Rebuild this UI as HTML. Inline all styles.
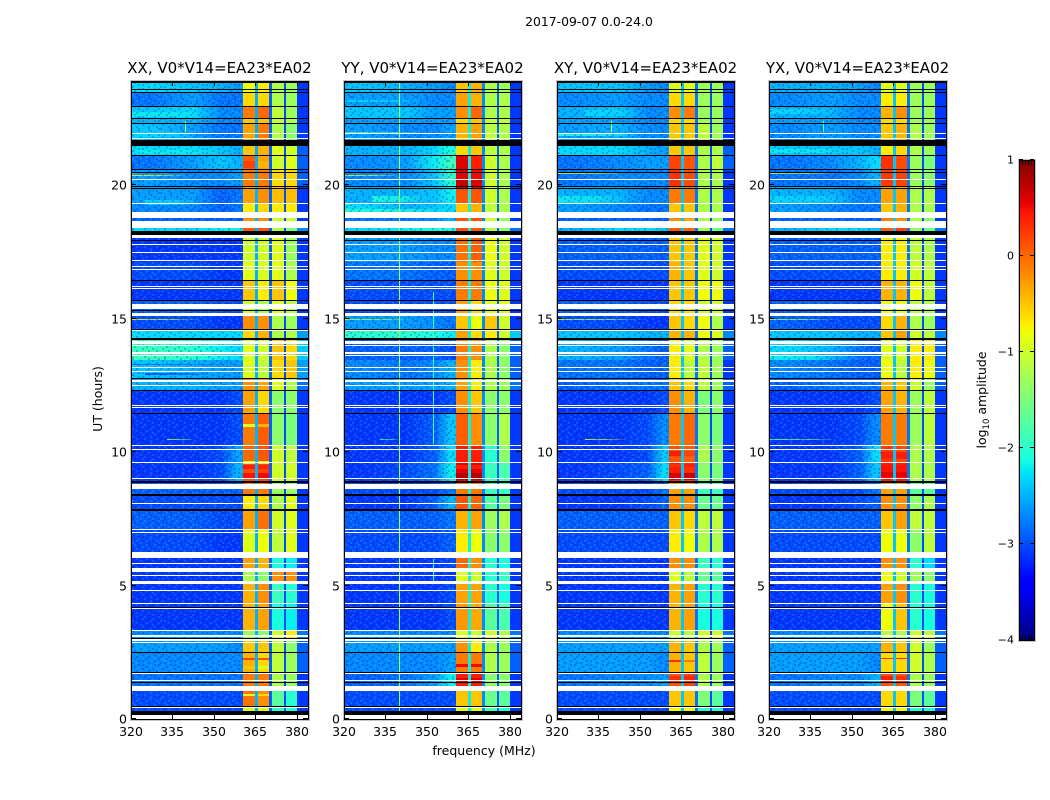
<!DOCTYPE html>
<html>
<head>
<meta charset="utf-8">
<title>2017-09-07 0.0-24.0</title>
<style>
html,body{margin:0;padding:0;background:#fff;width:1050px;height:800px;overflow:hidden}
svg{display:block;font-family:"DejaVu Sans","Liberation Sans",sans-serif;fill:#000}
</style>
</head>
<body>
<svg id="chart" xmlns="http://www.w3.org/2000/svg" width="1050" height="800" viewBox="0 0 1050 800">
  <defs id="defs">
    <pattern id="grain" width="32" height="32" patternUnits="userSpaceOnUse"></pattern>
  </defs>
  <text x="589" y="26" font-size="12.4" text-anchor="middle">2017-09-07 0.0-24.0</text>
  <text x="484" y="755" font-size="12.5" text-anchor="middle">frequency (MHz)</text>
  <text x="0" y="0" font-size="12.5" text-anchor="middle" transform="translate(102,399) rotate(-90)">UT (hours)</text>
  <text x="0" y="0" font-size="12.5" text-anchor="middle" transform="translate(986,400) rotate(-90)">log<tspan font-size="8.5" dy="3">10</tspan><tspan dy="-3"> amplitude</tspan></text>
  <g id="panels"></g>
  <g id="colorbar"></g>
  <text x="1017" y="647" font-size="4.5" fill="#999" letter-spacing="1.7">......</text>
</svg>
<script>
// ---- axis data ----
const panelTitles = ["XX, V0*V14=EA23*EA02", "YY, V0*V14=EA23*EA02", "XY, V0*V14=EA23*EA02", "YX, V0*V14=EA23*EA02"];
const freqTicks = [320, 335, 350, 365, 380];
const utTicks = [0, 5, 10, 15, 20];
const cbarTicks = [1, 0, -1, -2, -3, -4];
const cbarMinorFractions = [0.2, 0.4, 0.6, 0.8];
const freqEdges = [320, 335, 350, 356, 360.4, 365.4, 370.5, 375.6, 380, 384];
const utEdges = [23.90,23.48,22.96,22.51,22.28,21.46,21.12,20.56,19.93,19.33,18.76,18.39,18.01,17.12,16.40,15.69,15.09,14.57,14.19,13.45,12.77,12.32,11.46,10.26,9.63,8.88,8.35,7.83,7.08,6.03,5.51,5.06,4.31,3.33,2.96,2.51,1.72,1.24,0.49,0.15];
const gapBands = [[365.0,366.0],[370.0,371.0],[375.2,376.1]];

// ---- log10 amplitude per time row, columns per freqEdges ----
const xxValues = [
[-2.3,-2.4,-2.5,-2.6,-.8,-.7,-1.2,-1.3,-3.1],
[-2.8,-2.6,-2.8,-2.8,-.6,-.6,-1.2,-1.3,-3.1],
[-2.4,-2.3,-2.7,-2.7,-.1,0,-1.1,-1.3,-3.1],
[-2.5,-2.5,-2.7,-2.7,-.5,-.5,-1.1,-1.2,-3.1],
[-2.4,-2.6,-2.8,-2.8,-.3,-.1,-1.2,-1.4,-3.1],
[-2.3,-2.3,-2.4,-2.5,-.5,-.4,-.9,-1,-2.9],
[-2.8,-2.6,-2.4,-2.5,.05,-.3,-1,-.9,-2.9],
[-2.6,-2.7,-2.7,-2.6,-.1,-.1,-.6,-.6,-2.9],
[-2.6,-2.6,-2.9,-2.8,-.3,-.2,-.45,-.45,-3.1],
[-2.7,-2.7,-2.9,-2.8,-.7,-.6,-.7,-.7,-3.1],
[-2.9,-2.9,-2.9,-2.9,-.2,-.2,-1,-1,-3.1],
[-2.3,-2.3,-2.2,-2.2,.1,.1,-1.2,-1.5,-2.7],
[-3.1,-3.1,-3.1,-3.1,-1,-1,-.9,-1.3,-3.1],
[-3,-3,-3.1,-3.1,-.9,-.95,-.9,-1.2,-3.1],
[-3.1,-3.1,-3.1,-3.1,-.5,-.7,-.5,-.8,-3.1],
[-2.9,-2.9,-3,-3,-1,-1.2,-.9,-1.1,-3.1],
[-3,-3,-3.1,-3.1,-.2,-.2,-1.2,-1.3,-3.1],
[-2.3,-2.3,-2.3,-2.3,-.6,-.4,-1.2,-1.2,-2.6],
[-1.9,-2,-2.2,-2.3,-.9,-1,-.5,-.6,-2.4],
[-2.4,-2.5,-2.6,-2.6,-.9,-1.1,-.6,-.5,-2.6],
[-2.5,-2.5,-2.6,-2.6,-.2,-.3,-.9,-1.2,-2.8],
[-3.1,-3.1,-3.1,-3,-.3,-.6,-1.4,-1.4,-3.1],
[-3.1,-3.1,-3.1,-3,-.1,.05,-1.4,-1.5,-3.1],
[-3.1,-3.1,-3,-2.6,0,.1,-1,-1.1,-3.1],
[-3.1,-3.1,-3,-2.5,.15,.2,-1,-1,-3.1],
[-2.9,-2.9,-2.9,-2.9,-.1,-.1,-1.3,-1.3,-3.1],
[-3,-3,-3,-3,-.7,-.6,-1.2,-.9,-3.1],
[-2.9,-2.9,-3,-3,-.3,-.05,-1,-.9,-3.1],
[-3,-3,-3.1,-3.1,-.9,-.8,-1.1,-.9,-3.1],
[-3.1,-3.1,-3.1,-3.1,-.3,-.4,-2.1,-2.2,-3.1],
[-3.1,-3.1,-3.1,-3.1,-1.2,-1.4,-.2,-.2,-3.1],
[-3.1,-3.1,-3.1,-3.1,-.4,-.2,-1.9,-2,-3.1],
[-3.1,-3.1,-3.1,-3.1,-.4,-.3,-2.1,-2.2,-3.1],
[-2.7,-2.7,-2.7,-2.7,-1.3,-1.4,-1,-.7,-2.8],
[-2.6,-2.6,-2.6,-2.7,-.5,-.5,-1.1,-1.4,-2.9],
[-2.7,-2.7,-2.7,-2.7,-.4,-.6,-1.1,-1.3,-2.9],
[-2.8,-2.8,-2.8,-2.8,-.1,-.1,-1.2,-1.3,-3.1],
[-3,-3,-3,-3,-.05,-.2,-1.7,-2,-3.1],
[-3,-3,-3,-3,-.9,-.9,-2,-2,-3.1]];
const yyValues = [
[-2.4,-2.5,-2.6,-2.7,-.5,-.4,-1.2,-1.3,-3.1],
[-2.6,-2.6,-2.7,-2.7,-.3,-.4,-1.2,-1.2,-3.1],
[-2.4,-2.4,-2.6,-2.6,-.2,0,-1.2,-1.2,-3.1],
[-2.6,-2.6,-2.6,-2.6,-.6,-.5,-1.1,-1.1,-3.1],
[-2.6,-2.7,-2.7,-2.6,-.4,-.3,-1.1,-1.2,-3.1],
[-2.5,-2.5,-2.3,-2.1,-.6,-.5,-1.1,-1.2,-3.1],
[-2.7,-2.6,-2.2,-1.9,.6,.4,-1,-1.2,-3.1],
[-2.7,-2.7,-2.4,-2,.55,.5,-1,-1.2,-3.1],
[-2.5,-2.5,-2.4,-2.2,.1,.1,-1,-1.2,-3.1],
[-2.3,-2.5,-2.4,-2.3,-.5,-.4,-1.1,-1.2,-3.1],
[-2.8,-2.8,-2.7,-2.5,.1,.1,-1,-1.3,-3.1],
[-2.3,-2.2,-2.1,-2.1,.15,.1,-1.2,-1.4,-2.8],
[-2.6,-2.6,-2.7,-2.7,-.05,.05,-.8,-1,-3.1],
[-2.8,-2.8,-2.9,-2.9,-.2,-.2,-.9,-1,-3.1],
[-3,-3,-3,-3,-.1,-.1,-.8,-.9,-3.1],
[-3,-3,-3,-3,-.3,-.6,-.9,-.9,-3.1],
[-2.6,-2.6,-2.7,-2.8,-.5,-.8,-.5,-1,-3.1],
[-2,-2,-2.1,-2.2,-.3,-.6,-.7,-1,-2.4],
[-2.9,-2.9,-2.9,-3,-.1,-.2,-1.2,-1.4,-2.9],
[-2.7,-2.8,-2.7,-2.5,-.2,-.7,-1.2,-1.4,-2.9],
[-2.6,-2.6,-2.6,-2.5,-.3,-.7,-1.2,-1.3,-2.8],
[-3.1,-3.1,-3.1,-3,-.2,-.5,-1.4,-1.4,-3.1],
[-3.1,-3.1,-2.9,-2.4,.05,-.2,-1.4,-1.2,-3.1],
[-3.1,-3.1,-2.9,-2.3,.4,.4,-2,-1.4,-3.1],
[-3.1,-3,-2.8,-2.2,.55,.55,-1.9,-1.8,-3.1],
[-3,-3,-3,-2.8,-.1,-.1,-1.9,-1.9,-3.1],
[-3.1,-3.1,-2.9,-2.5,.1,0,-1.7,-1.5,-3.1],
[-2.9,-2.9,-2.9,-2.8,-.4,-.3,-1.3,-1.2,-3.1],
[-3,-3,-3,-2.9,-.7,-.8,-1.4,-1.4,-3.1],
[-3.1,-3.1,-3.1,-3,0,-.2,-2,-2.1,-3.1],
[-3.1,-3.1,-3.1,-3.1,-.9,-1,-2,-1.9,-3.1],
[-3.1,-3.1,-3.1,-3,-.3,-.3,-2,-2.1,-3.1],
[-3.1,-3.1,-3.1,-3,-.25,-.35,-1.7,-1.8,-3.1],
[-2.7,-2.7,-2.7,-2.7,-.9,-1,-1,-1.2,-2.8],
[-2.6,-2.6,-2.6,-2.6,-.2,-.7,-1.2,-1.3,-2.9],
[-2.7,-2.7,-2.7,-2.6,-.1,-.1,-1.2,-1.3,-2.9],
[-2.9,-2.8,-2.6,-2.2,.4,.4,-1.4,-1.4,-3.1],
[-3,-3,-3,-3,-.5,-.5,-1.6,-1.7,-3.1],
[-3,-3,-3,-3,-.9,-.9,-1.8,-2,-3.1]];
const xyValues = [
[-2.4,-2.4,-2.6,-2.7,-.9,-.9,-1.3,-1.3,-3.1],
[-2.7,-2.6,-2.7,-2.7,-.6,-.6,-1.3,-1.3,-3.1],
[-2.5,-2.4,-2.7,-2.7,-.2,-.1,-1.3,-1.3,-3.1],
[-2.6,-2.6,-2.7,-2.7,-.6,-.6,-1.3,-1.3,-3.1],
[-2.6,-2.5,-2.7,-2.7,-.5,-.5,-1.1,-1.3,-3.1],
[-2.3,-2.3,-2.5,-2.6,-.5,-.5,-1.2,-1.2,-2.9],
[-2.8,-2.7,-2.6,-2.6,.2,.1,-1.2,-1.1,-2.9],
[-2.8,-2.7,-2.7,-2.7,.3,.15,-1.2,-1.2,-3.1],
[-2.5,-2.5,-2.7,-2.7,-.1,-.1,-1.2,-1.2,-3.1],
[-2.6,-2.7,-2.8,-2.8,-.5,-.5,-1.2,-1.2,-3.1],
[-2.9,-2.9,-2.9,-2.9,-.2,-.3,-1.2,-1.3,-3.1],
[-2.5,-2.3,-2.3,-2.4,.1,0,-1.3,-1.6,-2.8],
[-2.9,-2.9,-2.9,-2.9,-.5,-.5,-.9,-1,-3.1],
[-3,-3,-3,-3,-.4,-.5,-.9,-1,-3.1],
[-3.1,-3.1,-3.1,-3.1,-.5,-.5,-.8,-.8,-3.1],
[-2.9,-2.9,-3,-3,-.6,-.6,-1,-1,-3.1],
[-3,-3,-3.1,-3.1,-.5,-.6,-.8,-1.2,-3.1],
[-2.4,-2.4,-2.5,-2.5,-.4,-.4,-.8,-.9,-2.7],
[-2.5,-2.6,-2.8,-2.9,-.7,-.9,-1.2,-1.3,-2.9],
[-2.8,-2.8,-2.9,-2.9,-.7,-1.1,-1.1,-1.3,-3.1],
[-2.9,-2.8,-2.8,-2.8,-.5,-.6,-1.1,-1.3,-2.9],
[-3.1,-3.1,-3.1,-3,-.2,-.4,-1.5,-1.4,-3.1],
[-3.1,-3.1,-3,-2.7,-.1,0,-1.4,-1.5,-3.1],
[-3.1,-3.1,-3,-2.4,.1,.05,-1.2,-1.4,-3.1],
[-3.1,-3,-2.9,-2.3,.4,.3,-1.4,-1.5,-3.1],
[-3,-3,-3,-2.8,-.3,-.3,-1.9,-1.9,-3.1],
[-3.1,-3.1,-3,-2.9,-.2,-.2,-1.6,-1.6,-3.1],
[-2.9,-2.9,-2.9,-2.9,-.5,-.6,-1.1,-1.1,-3.1],
[-3,-3,-3,-3,-.7,-.8,-1.2,-1.2,-3.1],
[-3.1,-3.1,-3.1,-3.1,-.2,-.2,-1.9,-2,-3.1],
[-3.1,-3.1,-3.1,-3.1,-.9,-1.1,-1.6,-1.7,-3.1],
[-3.1,-3.1,-3.1,-3.1,-.4,-.3,-2,-2,-3.1],
[-3.1,-3.1,-3.1,-3.1,-.4,-.3,-2.1,-2.1,-3.1],
[-2.7,-2.7,-2.7,-2.7,-1,-1.1,-1,-1,-2.8],
[-2.6,-2.6,-2.6,-2.6,-.4,-.5,-1.2,-1.3,-2.9],
[-2.6,-2.6,-2.6,-2.7,-.4,-.5,-1.1,-1.3,-2.9],
[-2.8,-2.7,-2.7,-2.6,.1,.2,-1.2,-1.3,-3.1],
[-3,-3,-3,-3,-.5,-.5,-1.5,-1.7,-3.1],
[-3,-3,-3,-3,-.8,-.8,-2,-2,-3.1]];
const yxValues = [
[-2.5,-2.5,-2.6,-2.7,-.9,-.9,-1.3,-1.3,-3.1],
[-2.7,-2.6,-2.7,-2.7,-.7,-.7,-1.3,-1.3,-3.1],
[-2.5,-2.5,-2.7,-2.7,-.4,-.2,-1.3,-1.3,-3.1],
[-2.6,-2.6,-2.7,-2.7,-.6,-.6,-1.3,-1.3,-3.1],
[-2.7,-2.6,-2.7,-2.7,-.5,-.4,-1.2,-1.3,-3.1],
[-2.4,-2.4,-2.4,-2.5,-.7,-.6,-1.2,-1.3,-3.1],
[-2.8,-2.7,-2.5,-2.3,.3,.15,-1.3,-1.5,-3.1],
[-2.8,-2.8,-2.7,-2.5,.25,.2,-1.3,-1.4,-3.1],
[-2.5,-2.5,-2.7,-2.7,-.3,-.3,-1.2,-1.2,-3.1],
[-2.6,-2.7,-2.8,-2.8,-.5,-.4,-1.2,-1.2,-3.1],
[-2.9,-2.9,-2.9,-2.9,-.1,-.2,-1.2,-1.4,-3.1],
[-2.5,-2.3,-2.3,-2.4,.05,.2,-1.3,-1.6,-2.8],
[-2.9,-2.9,-2.9,-2.9,-.7,-.7,-1.1,-1.2,-3.1],
[-3,-3,-3,-3,-.7,-.7,-1,-1.1,-3.1],
[-3.1,-3.1,-3.1,-3.1,-.4,-.4,-.8,-1.1,-3.1],
[-2.9,-2.9,-3,-3,-.8,-.8,-1.1,-1.2,-3.1],
[-2.9,-3,-3,-3,-.6,-.4,-1.2,-1.3,-3.1],
[-2.4,-2.4,-2.5,-2.5,-.5,-.3,-1,-1.1,-2.7],
[-2.3,-2.5,-2.8,-2.9,-.9,-1,-.7,-.7,-2.9],
[-2.7,-2.8,-2.9,-2.9,-.8,-1.1,-.7,-.8,-2.9],
[-2.9,-2.8,-2.8,-2.8,-.4,-.5,-1,-1.3,-2.9],
[-3.1,-3.1,-3.1,-3,-.3,-.4,-1.3,-1.1,-3.1],
[-3.1,-3.1,-3,-2.7,-.1,-.1,-1.3,-1.1,-3.1],
[-3.1,-3.1,-2.9,-2.3,.25,.15,-1.2,-1.2,-3.1],
[-3.1,-3.1,-2.9,-2.4,.45,.45,-1.2,-1.2,-3.1],
[-3,-3,-3,-2.8,-.3,-.3,-1.7,-1.7,-3.1],
[-3.1,-3.1,-3,-2.9,-.2,-.2,-1.4,-1.2,-3.1],
[-2.9,-2.9,-2.9,-2.9,-.5,-.3,-1.1,-1.1,-3.1],
[-3,-3,-3,-3,-.8,-.8,-1.4,-1.1,-3.1],
[-3.1,-3.1,-3.1,-3.1,-.2,-.2,-2,-2.3,-3.1],
[-3.1,-3.1,-3.1,-3.1,-.8,-1,-1.3,-1.4,-3.1],
[-3.1,-3.1,-3.1,-3.1,-.3,-.2,-2,-2.1,-3.1],
[-3.1,-3.1,-3.1,-3.1,-.8,-.5,-2,-2.1,-3.1],
[-2.7,-2.7,-2.7,-2.7,-1.1,-1.2,-1,-1.1,-2.8],
[-2.6,-2.6,-2.6,-2.6,-.4,-.5,-1,-1.3,-2.9],
[-2.6,-2.6,-2.6,-2.7,-.6,-.6,-1,-1.2,-2.9],
[-2.8,-2.7,-2.7,-2.5,.1,.1,-1.2,-1.3,-3.1],
[-3,-3,-3,-3,-.6,-.6,-1.5,-1.7,-3.1],
[-3,-3,-3,-3,-.8,-.8,-2,-2.1,-3.1]];
const panelValues = [xxValues, yyValues, xyValues, yxValues];

// channel-gap amplitudes (one value per gapBands entry, per panel)
const gapXX = [-2.5, -2.9, -3.0];
const gapYY = [-2.2, -2.7, -2.9];
const gapXY = [-2.4, -2.8, -3.0];
const gapYX = [-2.4, -2.8, -3.0];
const panelGaps = [gapXX, gapYY, gapXY, gapYX];

// short hot or cool episodes in the two bright bands: [start UT, hours, band1 value, band2 value]
const stripesXX = [[20.9,.25,.2,-.4],[11.05,.1,-.9,-.4],[9.5,.15,.4,.35],[9.2,.2,.45,.5],[9.65,.1,-.9,-.7],[2.3,.1,.2,.1],[2.0,.12,-.5,-.9],[.95,.1,-.9,-.6]];
const stripesYY = [[20.2,.3,.7,.6],[9.2,.25,.75,.75],[9.5,.12,.4,.4],[2.05,.1,.5,.5],[1.55,.2,.55,.55]];
const stripesXY = [[9.2,.25,.6,.65],[9.55,.1,.3,.4],[10.05,.2,.4,.2],[1.6,.2,.3,.35],[2.2,.08,.3,-.1]];
const stripesYX = [[9.25,.2,.55,.55],[9.6,.1,.4,.4],[10.0,.25,.4,.4],[2.3,.06,.3,.3],[1.6,.2,.4,.3]];
const panelStripes = [stripesXX, stripesYY, stripesXY, stripesYX];

// narrow-band RFI: [freq MHz, from UT, to UT, value]
const rfiXX = [[339.5, 22.4, 22.0, -1.3]];
const rfiYY = [[339.9, 23.9, 0.15, -1.3], [352, 16.0, 10.3, -1.9], [352, 6.0, 5.1, -1.9]];
const rfiXY = [[339.7, 22.4, 22.0, -1.2]];
const rfiYX = [[339.7, 22.4, 22.0, -1.6]];
const panelRfi = [rfiXX, rfiYY, rfiXY, rfiYX];

// time-localized streaks: [from MHz, to MHz, UT, value, duration hours]
const streakXX = [[320,340,20.37,-.7,.04],[333,343,10.49,-1.5,.04],[320,345,15.0,-.9,.04],[320,348,22.75,-2.2,.2],[320,345,22.0,-2.3,.2],[322,352,21.3,-2.2,.12],[325,345,19.45,-2.3,.2],[320,360,13.3,-2.9,.05],[325,350,12.95,-3,.05]];
const streakYY = [[320,340,20.37,-.9,.04],[333,340,10.49,-1.8,.04],[320,345,15.0,-1.2,.04],[320,350,22.0,-1.9,.04],[320,360,19.1,-2.0,.1],[330,350,19.6,-2.1,.25],[320,350,23.2,-2.3,.1]];
const streakXY = [[320,345,20.45,-1,.04],[330,345,10.49,-1.2,.04],[320,352,15.0,-1.1,.04],[320,350,21.9,-2.0,.05],[320,345,19.6,-2.2,.3],[330,352,18.25,-2.2,.15],[320,345,21.35,-2.3,.15],[330,350,22.8,-2.3,.2]];
const streakYX = [[320,345,20.45,-1.2,.04],[320,345,10.49,-1.5,.04],[320,345,15.0,-1.3,.04],[320,340,21.95,-1.9,.05],[320,350,19.6,-2.3,.3],[320,350,21.35,-2.2,.15],[335,350,18.25,-2.2,.15],[320,345,22.85,-2.3,.2],[320,345,13.6,-2.2,.15]];
const panelStreaks = [streakXX, streakYY, streakXY, streakYX];

// flagged time ranges, common to all panels (hours)
const thinBlackUT = [23.86,23.57,23.47,22.95,22.51,22.30,21.12,20.57,20.48,19.95,19.89,17.91,16.43,15.67,14.60,12.77,12.31,11.45,8.87,8.39,7.85,4.18,3.33,3.02,2.50,1.73,1.35,0.46];
const wideBlackUT = [[21.70,21.46],[18.27,18.14],[15.33,15.28],[14.27,14.20],[8.90,8.83],[7.87,7.80],[3.35,3.29],[0.29,0.15]];
const thinWhiteUT = [21.92,21.73,20.22,19.30,17.79,17.49,17.18,16.94,16.85,16.19,16.12,14.54,13.98,13.71,13.63,13.17,13.02,11.75,11.66,10.25,10.10,9.61,9.01,8.08,7.10,6.97,5.83,5.38,4.82,4.33,4.15,3.30,2.96,2.87,1.70,1.45,0.42];
const wideWhiteUT = [[19.01,18.76],[18.66,18.39],[18.14,18.01],[15.54,15.36],[15.22,15.08],[14.15,14.05],[12.69,12.62],[12.52,12.47],[8.81,8.61],[6.25,6.03],[5.66,5.51],[5.17,5.06],[3.15,3.06],[1.24,1.05],[0.15,0]];

// ---- scales ----
const SVGNS = "http://www.w3.org/2000/svg";
const axisLefts = [131, 344, 557, 769];
const axisW = 177, axisTop = 81, axisBottom = 719;
const fMin = 320, fMax = 384, utMin = 0, utMax = 23.9, vMin = -4, vMax = 1;
const cbLeft = 1019, cbRight = 1034, cbTop = 160, cbBottom = 640;
const smoothCols = 4; // sky-noise columns are blended horizontally
function xScale(left, f) { return left + (f - fMin) / (fMax - fMin) * axisW; }
function yScale(t) { return axisBottom - (t - utMin) / (utMax - utMin) * (axisBottom - axisTop); }
function cbScale(v) { return cbBottom - (v - vMin) / (vMax - vMin) * (cbBottom - cbTop); }
function interp(pts, t) {
  for (let i = 1; i < pts.length; i++) {
    if (t <= pts[i][0]) {
      const a = pts[i - 1], b = pts[i];
      return a[1] + (b[1] - a[1]) * (t - a[0]) / (b[0] - a[0]);
    }
  }
  return pts[pts.length - 1][1];
}
const jetR = [[0,0],[.35,0],[.66,1],[.89,1],[1,.5]];
const jetG = [[0,0],[.125,0],[.375,1],[.64,1],[.91,0],[1,0]];
const jetB = [[0,.5],[.11,1],[.34,1],[.65,0],[1,0]];
function jet(v) {
  const t = Math.max(0, Math.min(1, (v - vMin) / (vMax - vMin)));
  return "rgb(" + Math.round(interp(jetR, t) * 255) + "," + Math.round(interp(jetG, t) * 255) + "," + Math.round(interp(jetB, t) * 255) + ")";
}
function mk(tag, parent, attrs, text) {
  const el = document.createElementNS(SVGNS, tag);
  for (const k in attrs) el.setAttribute(k, attrs[k]);
  if (text !== undefined) el.textContent = text;
  parent.appendChild(el);
  return el;
}
function cell(parent, x0, x1, y0, y1, fill) {
  const xa = Math.round(x0), xb = Math.round(x1), ya = Math.round(y0);
  const yb = Math.max(ya + 1, Math.round(y1));
  return mk("rect", parent, { x: xa, y: ya, width: Math.max(1, xb - xa), height: yb - ya, fill: fill, "shape-rendering": "crispEdges" });
}
const minusLabel = v => String(v).replace("-", "\u2212");

// ---- grain texture (visual only, hand-drawn tile) ----
const grainMap = [
"d..l.d...ld..l.d",
".l...d.l...d...l",
"..d.l...d.l..d..",
"l.d...l...d.l..d",
".d..l.d.l...d..l",
"...d...l..d.l.d.",
"l.l..d...d.l...d",
".d..l..d.l...d.l",
"d...d.l...d.l...",
".l.d...l.d...l.d",
"..l..d.d...l.d..",
"d.d.l...l.d...l.",
".l...d.d...l.d.d",
"l..d.l...d.l....",
".d..l..d.l..d.l.",
"..l.d.l...d...dl"];
const grainEl = document.getElementById("grain");
grainMap.forEach(function (line, gy) {
  line.split("").forEach(function (ch, gx) {
    if (ch === ".") return;
    mk("rect", grainEl, { x: gx * 2, y: gy * 2, width: 2, height: 2, fill: ch === "d" ? "#000080" : "#60c0ff", opacity: ch === "d" ? 0.22 : 0.2 });
  });
});

// ---- panels ----
const root = document.getElementById("panels");
const defs = document.getElementById("defs");
panelTitles.forEach(function (title, p) {
  const left = axisLefts[p];
  const right = left + axisW;
  const g = mk("g", root, {});
  
  

  mk("rect", g, { x: left, y: axisTop, width: axisW, height: axisBottom - axisTop, fill: "#fff" });

  panelValues[p].forEach(function (row, r) {
    const gx0 = xScale(left, freqEdges[0]);
    const gx1 = xScale(left, freqEdges[smoothCols]);
    const gradId = "row-" + p + "-" + r;
    const grad = mk("linearGradient", defs, { id: gradId, gradientUnits: "userSpaceOnUse", x1: gx0, x2: gx1, y1: 0, y2: 0 });
    for (let c = 0; c < smoothCols; c++) {
      const mid = (freqEdges[c] + freqEdges[c + 1]) / 2;
      const off = (mid - freqEdges[0]) / (freqEdges[smoothCols] - freqEdges[0]);
      mk("stop", grad, { offset: off, "stop-color": jet(row[c]) });
    }
    const bg = cell(g, gx0, gx1, yScale(utEdges[r]), yScale(utEdges[r + 1]), "url(#" + gradId + ")");
    
    
    for (let c = smoothCols; c < row.length; c++) {
      const el = cell(g, xScale(left, freqEdges[c]), xScale(left, freqEdges[c + 1]), yScale(utEdges[r]), yScale(utEdges[r + 1]), jet(row[c]));
      
      
    }
  });

  panelStripes[p].forEach(function (d) {
    const s1 = cell(g, xScale(left, freqEdges[smoothCols]), xScale(left, freqEdges[smoothCols + 1]), yScale(d[0]), yScale(d[0] - d[1]), jet(d[2]));
    
    
    const s2 = cell(g, xScale(left, freqEdges[smoothCols + 1]), xScale(left, freqEdges[smoothCols + 2]), yScale(d[0]), yScale(d[0] - d[1]), jet(d[3]));
    
    
  });

  panelGaps[p].forEach(function (v, i) {
    const el = cell(g, xScale(left, gapBands[i][0]), xScale(left, gapBands[i][1]), yScale(utEdges[0]), yScale(utEdges[utEdges.length - 1]), jet(v));
    
    
  });

  panelStreaks[p].forEach(function (d, i) {
    const sx0 = xScale(left, d[0]), sx1 = xScale(left, d[1]);
    const sid = "streak-" + p + "-" + i;
    const sg = mk("linearGradient", defs, { id: sid, gradientUnits: "userSpaceOnUse", x1: sx0, x2: sx1, y1: 0, y2: 0 });
    mk("stop", sg, { offset: 0, "stop-color": jet(d[3]), "stop-opacity": 0.9 });
    mk("stop", sg, { offset: 0.6, "stop-color": jet(d[3]), "stop-opacity": 0.7 });
    mk("stop", sg, { offset: 1, "stop-color": jet(d[3]), "stop-opacity": 0 });
    const el = cell(g, sx0, sx1, yScale(d[2]), yScale(d[2] - d[4]), "url(#" + sid + ")");
    
    
  });

  const grain = mk("rect", g, { x: left, y: axisTop, width: Math.round(xScale(left, 360.4)) - left, height: axisBottom - axisTop, fill: "url(#grain)" });
  
  

  panelRfi[p].forEach(function (d) {
    const el = cell(g, xScale(left, d[0]), xScale(left, d[0]) + 1, yScale(d[1]), yScale(d[2]), jet(d[3]));
    
    
  });

  wideBlackUT.forEach(function (d) {
    const el = cell(g, left, right, yScale(d[0]), yScale(d[1]), "#000");
    
    
  });
  thinBlackUT.forEach(function (t) {
    const el = cell(g, left, right, yScale(t + 0.02), yScale(t - 0.02), "#000");
    
    
  });
  wideWhiteUT.forEach(function (d) {
    const el = cell(g, left, right, yScale(d[0]), yScale(d[1]), "#fff");
    
    
  });
  thinWhiteUT.forEach(function (t) {
    const el = cell(g, left, right, yScale(t + 0.02), yScale(t - 0.02), "#fff");
    
    
  });

  const halo = mk("rect", g, { x: left - 0.5, y: axisTop - 0.5, width: axisW + 2, height: axisBottom - axisTop + 2, fill: "none", stroke: "#c4c4c4", "stroke-width": 1, "shape-rendering": "crispEdges" });
  
  
  const frame = mk("rect", g, { x: left + 0.5, y: axisTop + 0.5, width: axisW, height: axisBottom - axisTop, fill: "none", stroke: "#000", "stroke-width": 1, "shape-rendering": "crispEdges" });
  
  

  const ttl = mk("text", g, { x: left + axisW / 2, y: 73, "font-size": 15, "text-anchor": "middle" }, title);
  
  

  freqTicks.forEach(function (f) {
    const x = Math.round(xScale(left, f)) + 0.5;
    const t1 = mk("line", g, { x1: x, x2: x, y1: axisBottom, y2: axisBottom - 5, stroke: "#000" });
    
    
    const t2 = mk("line", g, { x1: x, x2: x, y1: axisTop, y2: axisTop + 5, stroke: "#000" });
    
    
    const lab = mk("text", g, { x: x - 0.5, y: 736, "font-size": 12.5, "text-anchor": "middle" }, String(f));
    
    
  });
  utTicks.forEach(function (t) {
    const y = Math.round(yScale(t)) - 0.5;
    const t1 = mk("line", g, { x1: left, x2: left + 5, y1: y, y2: y, stroke: "#000" });
    
    
    const t2 = mk("line", g, { x1: right, x2: right - 5, y1: y, y2: y, stroke: "#000" });
    
    
    const lab = mk("text", g, { x: left - 4, y: y + 5, "font-size": 12.5, "text-anchor": "end" }, String(t));
    
    
  });
});

// ---- colorbar ----
const cb = document.getElementById("colorbar");
for (let py = cbTop; py < cbBottom; py++) {
  const v = vMax - (py + 0.5 - cbTop) / (cbBottom - cbTop) * (vMax - vMin);
  const el = mk("rect", cb, { x: cbLeft, y: py, width: cbRight - cbLeft, height: 1, fill: jet(v), "shape-rendering": "crispEdges" });
  
  
}
const cbHalo = mk("rect", cb, { x: cbLeft - 0.5, y: cbTop - 0.5, width: cbRight - cbLeft + 2, height: cbBottom - cbTop + 2, fill: "none", stroke: "#c4c4c4", "shape-rendering": "crispEdges" });


const cbFrame = mk("rect", cb, { x: cbLeft + 0.5, y: cbTop + 0.5, width: cbRight - cbLeft, height: cbBottom - cbTop, fill: "none", stroke: "#000", "shape-rendering": "crispEdges" });


cbarTicks.forEach(function (v) {
  const y = Math.round(cbScale(v)) - 0.5;
  const t1 = mk("line", cb, { x1: cbLeft, x2: cbLeft + 4, y1: y, y2: y, stroke: "#000" });
  
  
  const t2 = mk("line", cb, { x1: cbRight, x2: cbRight - 4, y1: y, y2: y, stroke: "#000" });
  
  
  const lab = mk("text", cb, { x: cbLeft - 5, y: y + 4, "font-size": 11, "text-anchor": "end" }, minusLabel(v));
  
  
});
cbarMinorFractions.forEach(function (f) {
  const x = Math.round(cbLeft + f * (cbRight - cbLeft)) + 0.5;
  const t1 = mk("line", cb, { x1: x, x2: x, y1: cbTop, y2: cbTop + 5, stroke: "#000" });
  
  
  const t2 = mk("line", cb, { x1: x, x2: x, y1: cbBottom, y2: cbBottom - 5, stroke: "#000" });
  
  
});
</script>
</body>
</html>
